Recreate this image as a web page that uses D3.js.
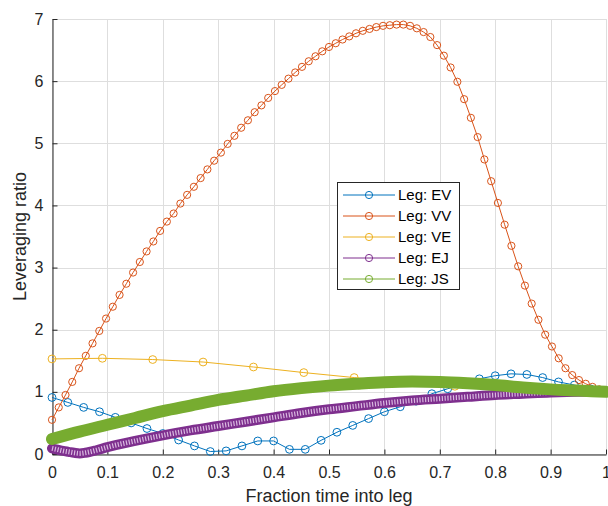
<!DOCTYPE html>
<html><head><meta charset="utf-8">
<script src="https://cdn.jsdelivr.net/npm/d3@7"></script>
<style>html,body{margin:0;padding:0;background:#fff;} svg{display:block;}</style>
</head><body><svg id="c" width="608" height="506"></svg>
<script>
// ---- data ----
const seriesNames = ["Leg: EV", "Leg: VV", "Leg: VE", "Leg: EJ", "Leg: JS"];
const seriesColors = ["#0072BD", "#D95319", "#EDB120", "#7E2F8E", "#77AC30"];

const evValues = [0.91,0.83,0.75,0.68,0.59,0.50,0.41,0.33,0.225,0.13,0.04,0.05,0.13,0.21,0.21,0.075,0.075,0.22,0.35,0.46,0.57,0.68,0.76,0.85,0.97,1.05,1.13,1.21,1.26,1.29,1.28,1.23,1.16,1.11,1.05,1.01];

const vvValues = [0.55,0.75,0.95,1.16,1.38,1.58,1.78,1.98,2.18,2.37,2.56,2.74,2.92,3.09,3.26,3.42,3.59,3.74,3.87,4.03,4.17,4.30,4.44,
  4.58,4.72,4.85,4.99,5.12,5.25,5.37,5.50,5.61,5.73,5.84,5.94,6.04,6.14,6.23,6.32,6.40,6.48,6.55,6.61,6.67,6.72,6.77,6.81,6.84,6.87,6.89,6.90,
  6.91,6.91,6.89,6.85,6.79,6.71,6.58,6.41,6.22,5.99,5.71,5.41,5.10,4.74,4.39,
  4.04,3.69,3.35,3.02,2.71,2.42,2.16,1.92,1.73,1.54,1.38,1.27,1.19,1.13,1.08,1.04,1.00];

const veValues = [1.53,1.54,1.52,1.48,1.40,1.31,1.23,1.15,1.09,1.04,1.01,1.00];

const ejX = [0,0.01,0.02,0.03,0.04,0.05,0.06,0.08,0.1,0.15,0.2,0.25,0.3,0.35,0.4,0.45,0.5,0.55,0.6,0.65,0.7,0.75,0.8,0.85,0.9,0.95,1];
const ejValues = [0.09,0.07,0.05,0.035,0.02,0.01,0.02,0.06,0.11,0.21,0.30,0.38,0.45,0.52,0.59,0.66,0.72,0.77,0.82,0.86,0.89,0.92,0.95,0.97,0.99,1.0,1.0];

const jsX = [0,0.05,0.1,0.15,0.2,0.25,0.3,0.35,0.4,0.45,0.5,0.55,0.6,0.65,0.7,0.75,0.8,0.85,0.9,0.95,1];
const jsValues = [0.24,0.36,0.47,0.58,0.69,0.78,0.87,0.94,1.01,1.06,1.10,1.13,1.155,1.165,1.16,1.14,1.11,1.07,1.04,1.02,1.0];

const xTickValues = [0,0.1,0.2,0.3,0.4,0.5,0.6,0.7,0.8,0.9,1];
const xTickLabels = ["0","0.1","0.2","0.3","0.4","0.5","0.6","0.7","0.8","0.9","1"];
const yTickValues = [0,1,2,3,4,5,6,7];
const yTickLabels = ["0","1","2","3","4","5","6","7"];

const xLabel = "Fraction time into leg";
const yLabel = "Leveraging ratio";

// ---- layout ----
const L = 52, R = 606, T = 19, B = 454;
const FONT = "'Liberation Sans', Arial, Helvetica, sans-serif";
const AXC = "#262626";

const svg = d3.select("#c");
const x = d3.scaleLinear().domain([0, 1]).range([L, R]);
const y = d3.scaleLinear().domain([0, 7]).range([B, T]);

// grid
const grid = svg.append("g").attr("stroke", "#dedede").attr("stroke-width", 1);
grid.selectAll("line.v").data(xTickValues).enter().append("line")
  .attr("x1", d => Math.round(x(d)) + 0.5).attr("x2", d => Math.round(x(d)) + 0.5)
  .attr("y1", T).attr("y2", B);
grid.selectAll("line.h").data(yTickValues).enter().append("line")
  .attr("y1", d => Math.round(y(d)) + 0.5).attr("y2", d => Math.round(y(d)) + 0.5)
  .attr("x1", L).attr("x2", R);

// axes
const xAxis = d3.axisBottom(x).tickValues(xTickValues).tickFormat((d, i) => xTickLabels[i])
  .tickSizeInner(-5).tickSizeOuter(0).tickPadding(12);
const yAxis = d3.axisLeft(y).tickValues(yTickValues).tickFormat((d, i) => yTickLabels[i])
  .tickSizeInner(-5).tickSizeOuter(0).tickPadding(9);

const gx = svg.append("g").attr("transform", `translate(0,${B + 0.5})`).call(xAxis);
const gy = svg.append("g").attr("transform", `translate(${L + 0.5},0)`).call(yAxis);
[gx, gy].forEach(g => {
  g.select(".domain").attr("stroke", AXC).attr("stroke-width", 1);
  g.selectAll(".tick line").attr("stroke", AXC);
  g.selectAll(".tick text").attr("fill", AXC).style("font-family", FONT).style("font-size", "16px");
});

// axis labels
svg.append("text").attr("x", x(0.5)).attr("y", 502).attr("text-anchor", "middle")
  .attr("fill", AXC).style("font-family", FONT).style("font-size", "18px").text(xLabel);
svg.append("text").attr("transform", `translate(26,${(T + B) / 2}) rotate(-90)`).attr("text-anchor", "middle")
  .attr("fill", AXC).style("font-family", FONT).style("font-size", "18px").text(yLabel);

// series
const plot = svg.append("g");
function markerSeries(vals, color, r) {
  const n = vals.length;
  const pts = vals.map((v, i) => [i / (n - 1), v]);
  const line = d3.line().x(d => x(d[0])).y(d => y(d[1]));
  const g = plot.append("g");
  g.append("path").attr("d", line(pts)).attr("fill", "none").attr("stroke", color).attr("stroke-width", 1);
  g.selectAll("circle").data(pts).enter().append("circle")
    .attr("cx", d => x(d[0])).attr("cy", d => y(d[1])).attr("r", r)
    .attr("fill", "none").attr("stroke", color).attr("stroke-width", 1);
}
markerSeries(evValues, seriesColors[0], 3.9);
markerSeries(vvValues, seriesColors[1], 3.6);
markerSeries(veValues, seriesColors[2], 3.9);

// EJ: dense circle markers form a textured band
const ejPts = ejX.map((d, i) => [d, ejValues[i]]);
const smooth = d3.line().x(d => x(d[0])).y(d => y(d[1])).curve(d3.curveMonotoneX);
plot.append("path").attr("d", smooth(ejPts)).attr("fill", "none").attr("stroke", seriesColors[3])
  .attr("stroke-width", 10).attr("stroke-linecap", "round");
plot.append("path").attr("d", smooth(ejPts)).attr("fill", "none").attr("stroke", "#d9b8e0")
  .attr("stroke-width", 5).attr("stroke-dasharray", "1.2,1.6");
// JS: dense markers form a solid thick band
const jsPts = jsX.map((d, i) => [d, jsValues[i]]);
plot.append("path").attr("d", smooth(jsPts)).attr("fill", "none").attr("stroke", seriesColors[4])
  .attr("stroke-width", 12).attr("stroke-linecap", "round");

// legend
const lg = svg.append("g");
lg.append("rect").attr("x", 337.5).attr("y", 182.5).attr("width", 122).attr("height", 107)
  .attr("fill", "#fff").attr("stroke", AXC).attr("stroke-width", 1);
seriesNames.forEach((name, i) => {
  const yy = 195 + i * 21;
  lg.append("line").attr("x1", 343).attr("x2", 395).attr("y1", yy).attr("y2", yy)
    .attr("stroke", seriesColors[i]).attr("stroke-width", 1);
  lg.append("circle").attr("cx", 369).attr("cy", yy).attr("r", 3.6)
    .attr("fill", "none").attr("stroke", seriesColors[i]).attr("stroke-width", 1);
  lg.append("text").attr("x", 398).attr("y", yy).attr("dy", "0.36em").attr("fill", "#000")
    .style("font-family", FONT).style("font-size", "15px").text(name);
});
</script>
</body></html>
